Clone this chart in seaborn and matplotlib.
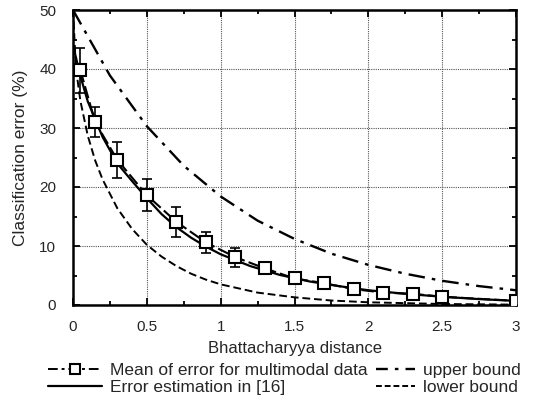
import matplotlib
matplotlib.use("Agg")
import matplotlib.pyplot as plt
import seaborn as sns
from matplotlib.ticker import MultipleLocator, FuncFormatter
from matplotlib.lines import Line2D

# ---- data ----
mean_x = [0.05, 0.15, 0.3, 0.5, 0.7, 0.9, 1.1, 1.3, 1.5, 1.7, 1.9, 2.1, 2.3, 2.5, 3.0]
mean_y = [39.8, 31.0, 24.6, 18.6, 14.1, 10.6, 8.1, 6.2, 4.5, 3.7, 2.7, 2.1, 1.9, 1.4, 0.7]
mean_err = [3.8, 2.6, 3.0, 2.7, 2.5, 1.8, 1.6, 0.6, 0.3, 0.3, 0.2, 0.2, 0.2, 0.2, 0.2]

est_x = [0.01, 0.05, 0.1, 0.2, 0.3, 0.4, 0.5, 0.6, 0.7, 0.8, 0.9, 1.0, 1.2, 1.4, 1.6,
         1.8, 2.0, 2.25, 2.5, 2.75, 3.0]
est_y = [43.0, 38.8, 34.5, 28.5, 24.0, 21.0, 18.1, 15.4, 13.2, 11.4, 9.9, 8.6, 6.6,
         5.1, 4.0, 3.2, 2.5, 1.9, 1.4, 1.0, 0.7]

upper_x = [0.0, 0.25, 0.5, 0.75, 1.0, 1.25, 1.5, 1.75, 2.0, 2.25, 2.5, 2.75, 3.0]
upper_y = [50.0, 38.9, 30.3, 23.6, 18.4, 14.3, 11.2, 8.7, 6.8, 5.3, 4.1, 3.2, 2.5]

lower_x = [0.0, 0.02, 0.05, 0.1, 0.15, 0.2, 0.3, 0.4, 0.5, 0.6, 0.7, 0.8, 0.9, 1.0,
           1.25, 1.5, 1.75, 2.0, 2.5, 3.0]
lower_y = [50.0, 40.1, 34.6, 28.7, 24.5, 21.3, 16.4, 12.9, 10.2, 8.2, 6.6, 5.3, 4.3,
           3.5, 2.1, 1.3, 0.76, 0.46, 0.17, 0.06]

labels = ["Mean of error for multimodal data", "Error estimation in [16]",
          "upper bound", "lower bound"]
x_label = "Bhattacharyya distance"
y_label = "Classification error (%)"

# ---- styling ----
sns.set_style("ticks")
plt.rcParams["font.family"] = ["Liberation Sans", "DejaVu Sans"]
plt.rcParams["font.size"] = 11

fig = plt.figure(figsize=(5.43, 4.03), dpi=100)
ax = fig.add_axes([73 / 543, 1 - 305 / 403, (516 - 73) / 543, (305 - 10) / 403])

k = "black"
upper_ls = (0, (7, 3, 1.5, 3))
lower_ls = (0, (4, 2))
sns.lineplot(x=est_x, y=est_y, ax=ax, color=k, lw=1.6, linestyle="-")
sns.lineplot(x=upper_x, y=upper_y, ax=ax, color=k, lw=1.7, linestyle=upper_ls)
sns.lineplot(x=lower_x, y=lower_y, ax=ax, color=k, lw=1.4, linestyle=lower_ls)
ax.errorbar(mean_x, mean_y, yerr=mean_err, fmt="none", ecolor=k, elinewidth=1.2,
            capsize=3.5, capthick=1.2, zorder=3)
sns.lineplot(x=mean_x, y=mean_y, ax=ax, color=k, lw=1.5, linestyle=(0, (6, 2)),
             marker="s", markersize=8, markerfacecolor="white",
             markeredgecolor=k, markeredgewidth=1.5, zorder=4)

ax.set_xlim(0, 3)
ax.set_ylim(0, 50)
ax.xaxis.set_major_locator(MultipleLocator(0.5))
ax.xaxis.set_minor_locator(MultipleLocator(0.25))
ax.yaxis.set_major_locator(MultipleLocator(10))
ax.yaxis.set_minor_locator(MultipleLocator(5))
ax.xaxis.set_major_formatter(FuncFormatter(lambda v, p: f"{v:g}"))
ax.yaxis.set_major_formatter(FuncFormatter(lambda v, p: f"{v:g}"))
ax.tick_params(which="both", direction="in", top=True, right=True, color=k, width=1.3)
ax.tick_params(which="major", length=5, labelsize=11)
ax.tick_params(axis="x", which="major", pad=11)
ax.tick_params(axis="y", which="major", pad=12)
ax.tick_params(which="minor", length=3)
ax.grid(True, which="major", linestyle=(0, (1, 1)), color="#555555", lw=0.8)
for s in ax.spines.values():
    s.set_linewidth(1.8)
    s.set_color(k)

ax.set_xlabel(x_label, fontsize=12, labelpad=5)
ax.set_ylabel(y_label, fontsize=12.5, labelpad=8)

h_mean = Line2D([], [], color=k, lw=1.4, linestyle=(0, (5, 2, 1.5, 2)), marker="s",
                markersize=7, markerfacecolor="white", markeredgecolor=k,
                markeredgewidth=1.5)
h_est = Line2D([], [], color=k, lw=1.6, linestyle="-")
h_up = Line2D([], [], color=k, lw=1.7, linestyle=(0, (5, 3, 1.5, 3)))
h_low = Line2D([], [], color=k, lw=1.4, linestyle=(0, (3, 1.5)))

leg_font = 12.5
leg1 = fig.legend([h_mean, h_est], labels[:2], loc="upper left",
                  bbox_to_anchor=(48 / 543, 1 - 363 / 403), frameon=False,
                  fontsize=leg_font, handlelength=3.1, handletextpad=0.45,
                  labelspacing=0.1, borderpad=0, borderaxespad=0)
leg2 = fig.legend([h_up, h_low], labels[2:], loc="upper left",
                  bbox_to_anchor=(376 / 543, 1 - 363 / 403), frameon=False,
                  fontsize=leg_font, handlelength=2.25, handletextpad=0.45,
                  labelspacing=0.1, borderpad=0, borderaxespad=0)

fig.savefig("out.png", dpi=100)
